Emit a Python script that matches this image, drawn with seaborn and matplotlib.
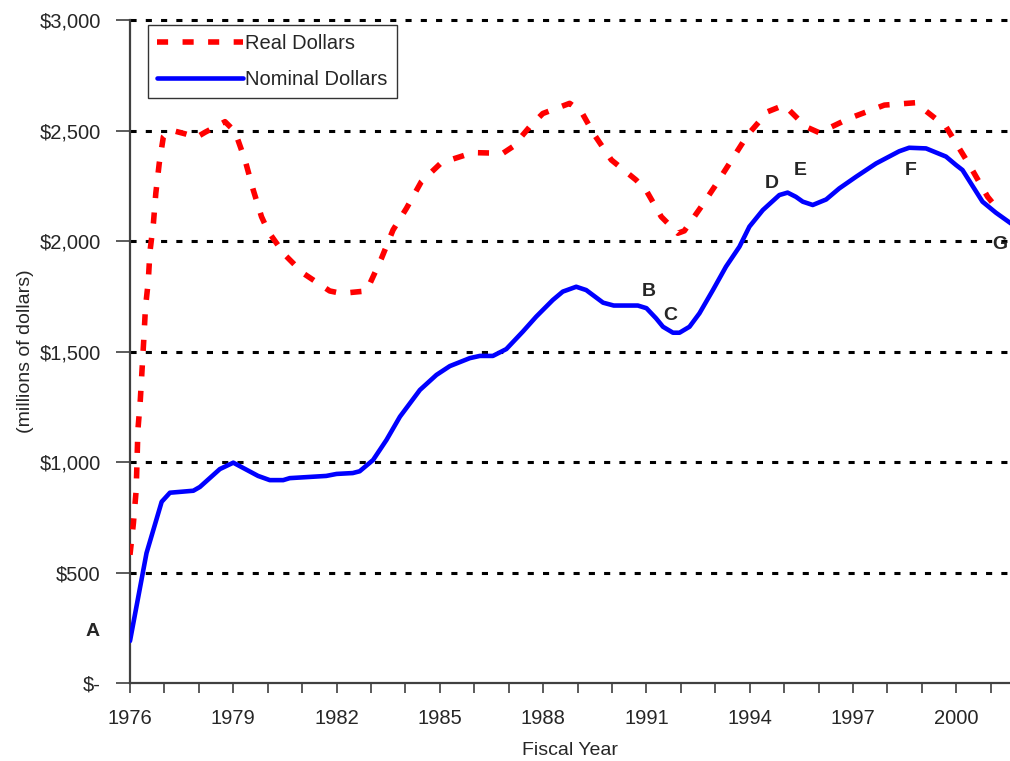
import matplotlib
matplotlib.use("Agg")
import matplotlib.pyplot as plt
import matplotlib.ticker as mticker
import seaborn as sns
import pandas as pd

# --- data (fiscal year, millions of dollars) ---
nominal_year = [1976.0, 1976.48, 1976.92, 1977.16, 1977.84, 1978.03, 1978.61, 1979.0,
                1979.72, 1980.06, 1980.45, 1980.64, 1981.7, 1982.0, 1982.47, 1982.67,
                1983.06, 1983.45, 1983.84, 1984.42, 1984.9, 1985.29, 1985.87, 1986.16,
                1986.54, 1986.93, 1987.41, 1987.8, 1988.28, 1988.57, 1988.96, 1989.25,
                1989.74, 1990.05, 1990.75, 1991.0, 1991.28, 1991.48, 1991.77, 1991.96,
                1992.25, 1992.54, 1992.93, 1993.31, 1993.7, 1993.99, 1994.38, 1994.86,
                1995.1, 1995.34, 1995.54, 1995.83, 1996.22, 1996.6, 1997.09, 1997.67,
                1998.34, 1998.63, 1999.12, 1999.7, 1999.99, 2000.18, 2000.76, 2001.15,
                2001.6]
nominal_val = [190, 588, 820, 861, 870, 887, 968, 997,
               937, 918, 918, 927, 937, 946, 950, 958,
               1009, 1100, 1205, 1326, 1394, 1434, 1470, 1480,
               1480, 1511, 1590, 1658, 1733, 1771, 1793, 1778,
               1721, 1708, 1708, 1696, 1650, 1612, 1585, 1585,
               1612, 1673, 1778, 1884, 1974, 2065, 2140, 2208,
               2219, 2200, 2178, 2163, 2188, 2238, 2291, 2351,
               2406, 2422, 2419, 2382, 2344, 2321, 2178, 2128,
               2078]

real_year = [1976.0, 1976.1, 1976.18, 1976.23, 1976.3, 1976.4, 1976.45, 1976.53,
             1976.58, 1976.68, 1976.75, 1976.85, 1976.97, 1977.11, 1977.26, 1977.6,
             1977.93, 1978.18, 1978.76, 1979.05, 1979.34, 1979.58, 1979.82, 1980.02,
             1980.5, 1981.03, 1981.8, 1982.14, 1982.87, 1983.3, 1983.64, 1984.03,
             1984.46, 1985.04, 1985.96, 1986.83, 1987.12, 1987.61, 1987.99, 1988.77,
             1989.11, 1989.49, 1989.98, 1990.7, 1991.0, 1991.43, 1991.91, 1992.1,
             1992.59, 1992.98, 1993.46, 1993.94, 1994.52, 1995.0, 1995.63, 1996.02,
             1996.89, 1997.91, 1998.83, 1999.02, 1999.7, 2000.38, 2000.91, 2001.25]
real_val = [580, 724, 873, 1145, 1281, 1552, 1700, 1816,
            1952, 2080, 2216, 2352, 2472, 2495, 2499, 2485,
            2469, 2492, 2540, 2495, 2367, 2231, 2110, 2042,
            1937, 1854, 1774, 1763, 1774, 1920, 2050, 2148,
            2268, 2354, 2400, 2397, 2427, 2517, 2577, 2623,
            2585, 2480, 2367, 2276, 2227, 2110, 2035, 2046,
            2155, 2246, 2363, 2480, 2585, 2615, 2517, 2490,
            2555, 2615, 2626, 2600, 2517, 2344, 2200, 2135]

# point labels: letter, year, value
label_text = ["A", "B", "C", "D", "E", "F", "G"]
label_year = [1974.9, 1991.08, 1991.69, 1994.63, 1995.47, 1998.66, 2001.27]
label_val = [231, 1770, 1661, 2258, 2321, 2321, 1982]

year_ticks = list(range(1976, 2002, 3))

df_nom = pd.DataFrame({"year": nominal_year, "value": nominal_val})
df_real = pd.DataFrame({"year": real_year, "value": real_val})

sns.set_style("white")
plt.rcParams["font.family"] = ["Liberation Sans", "DejaVu Sans"]

fig = plt.figure(figsize=(10.10, 7.61), dpi=100)
ax = fig.add_axes([0.1287, 0.1025, 0.871, 0.8712])

sns.lineplot(data=df_real, x="year", y="value", ax=ax, color="#FF0000", lw=4,
             sort=False, label="Real Dollars", zorder=3)
ax.lines[-1].set_dashes([2, 2.6])
sns.lineplot(data=df_nom, x="year", y="value", ax=ax, color="#0000FF", lw=3.3,
             sort=False, label="Nominal Dollars", zorder=4)

for t, x, y in zip(label_text, label_year, label_val):
    ax.text(x, y, t, fontsize=14, fontweight="bold", ha="center", va="center",
            clip_on=False, zorder=5)

ax.set_xlim(1976, 2001.55)
ax.set_ylim(0, 3000)

# dotted gridlines
for v in range(500, 3001, 500):
    ax.axhline(v, color="black", lw=2.2, ls=(0, (2, 3)), zorder=1, clip_on=False)

ax.xaxis.set_major_locator(mticker.FixedLocator(year_ticks))
ax.xaxis.set_minor_locator(mticker.MultipleLocator(1))
ax.yaxis.set_major_locator(mticker.MultipleLocator(500))
ax.yaxis.set_major_formatter(mticker.FuncFormatter(
    lambda v, p: "$-" if v == 0 else f"${v:,.0f}"))
ax.tick_params(axis="x", which="both", direction="out", length=7, width=1.2,
               color="#404040", labelsize=14.5, pad=12, bottom=True)
ax.tick_params(axis="y", direction="out", length=10, width=1.2, color="#404040",
               labelsize=14.5, pad=11, left=True)

for s in ["top", "right"]:
    ax.spines[s].set_visible(False)
for s in ["left", "bottom"]:
    ax.spines[s].set_color("#404040")
    ax.spines[s].set_linewidth(1.6)

ax.set_xlabel("Fiscal Year", fontsize=14, labelpad=10)
ax.set_ylabel("(millions of dollars)", fontsize=14, labelpad=4)

leg = ax.legend(loc="upper left", bbox_to_anchor=(0.02, 0.993), borderaxespad=0,
                fontsize=14.5, frameon=True, fancybox=False, handlelength=4.3,
                handletextpad=0.1, borderpad=0.45, labelspacing=0.85)
leg.get_frame().set_edgecolor("black")
leg.get_frame().set_linewidth(1)

fig.savefig("out.png", dpi=100)
